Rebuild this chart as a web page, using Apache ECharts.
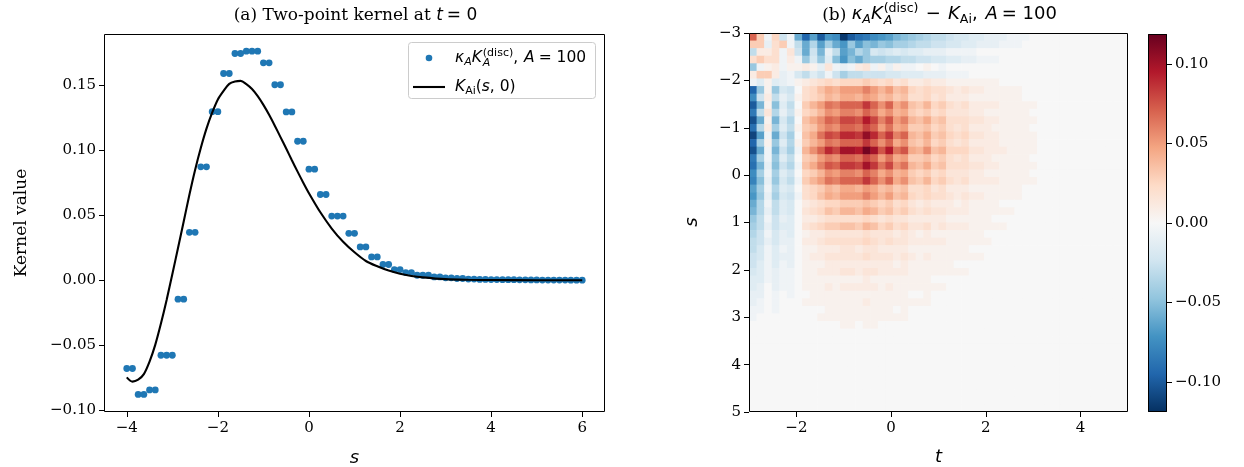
<!DOCTYPE html>
<html>
<head>
<meta charset="utf-8">
<script src="https://cdn.jsdelivr.net/npm/echarts/dist/echarts.min.js"></script>
<style>html,body{margin:0;padding:0;background:#fff}#main{width:1244px;height:467px}</style>
</head>
<body>
<div id="main"></div>
<script>
// ---------- data: panel (a) ----------
const S_POINTS = [-4,-3.875,-3.75,-3.625,-3.5,-3.375,-3.25,-3.125,-3,-2.875,-2.75,-2.625,-2.5,-2.375,-2.25,-2.125,-2,-1.875,-1.75,-1.625,-1.5,-1.375,-1.25,-1.125,-1,-0.875,-0.75,-0.625,-0.5,-0.375,-0.25,-0.125,0,0.125,0.25,0.375,0.5,0.625,0.75,0.875,1,1.125,1.25,1.375,1.5,1.625,1.75,1.875,2,2.125,2.25,2.375,2.5,2.625,2.75,2.875,3,3.125,3.25,3.375,3.5,3.625,3.75,3.875,4,4.125,4.25,4.375,4.5,4.625,4.75,4.875,5,5.125,5.25,5.375,5.5,5.625,5.75,5.875,6];
const K_DISC = [-0.068,-0.068,-0.088,-0.088,-0.0845,-0.0845,-0.0578,-0.0578,-0.0578,-0.0146,-0.0146,0.0369,0.0369,0.0873,0.0873,0.1298,0.1298,0.1592,0.1592,0.1746,0.1746,0.1764,0.1764,0.1764,0.1674,0.1674,0.1505,0.1505,0.1296,0.1296,0.107,0.107,0.0855,0.0855,0.066,0.066,0.0494,0.0494,0.0494,0.0361,0.0361,0.0256,0.0256,0.0179,0.0179,0.0121,0.0121,0.0082,0.0082,0.0059,0.0059,0.0038,0.0038,0.0038,0.0025,0.0025,0.0018,0.0018,0.0013,0.0013,0.0009,0.0009,0.0006,0.0006,0.0005,0.0005,0.0004,0.0004,0.0004,0.0003,0.0003,0.0002,0.0002,0.0001,0.0001,0.0001,0.0001,0.0001,0,0,0];
const S_CURVE = [-4,-3.875,-3.75,-3.625,-3.5,-3.375,-3.25,-3.125,-3,-2.875,-2.75,-2.625,-2.5,-2.375,-2.25,-2.125,-2,-1.875,-1.75,-1.625,-1.5,-1.375,-1.25,-1.125,-1,-0.875,-0.75,-0.625,-0.5,-0.375,-0.25,-0.125,0,0.25,0.5,0.75,1,1.25,1.5,1.75,2,2.25,2.5,3,3.5,4,5,6];
const K_AI = [-0.0748,-0.0781,-0.0766,-0.0723,-0.0627,-0.0498,-0.0334,-0.0152,0.0046,0.0248,0.0452,0.0658,0.0849,0.1018,0.1167,0.129,0.1392,0.1458,0.1512,0.153,0.1535,0.151,0.1472,0.1417,0.135,0.1274,0.119,0.1102,0.1014,0.0924,0.0836,0.0751,0.067,0.0523,0.0398,0.0296,0.0215,0.0148,0.0107,0.0074,0.0049,0.0033,0.0022,0.0008,0.0003,0.0001,0.00001,0];
const S_TICKS = [-4,-2,0,2,4,6];
const KERNEL_TICKS = [-0.1,-0.05,0,0.05,0.1,0.15];

// ---------- data: panel (b) ----------
const T_TICKS = [-2,0,2,4];
const S2_TICKS = [-3,-2,-1,0,1,2,3,4,5];
const CBAR_TICKS = [-0.1,-0.05,0,0.05,0.1];
const GRID_MIN = -3, GRID_MAX = 5, GRID_N = 50;
const VMIN = -0.119, VMAX = 0.119;
// each char = one cell (row = s from -3 downwards, column = t from -3 rightwards)
// '.' = 0, 'A'..'X' = +1..+24 steps, 'a'..'x' = -1..-24 steps; missing chars = 0
const DIFF_STEP = 0.005;
const DIFF_ROWS = [
"NFaEeal smtnowtrqonmkjihgffeddccbbbaaa",
"FFbDFaf lgmhlnimjkijhhgffeeddccbbbaaa",
"fBBDaCe lekbfmkgidedcdccbbbaaaa",
"DFDDaBa idicjnjlihhggffeeddccbbaaa",
"iaABaAA BAbCabaBCaAbAaa.A.a",
"BFFBbad fceaehffeeeddcccbbbaaa",
"acAcbaA BCDEDEEEFEDECDBBCBBAAAAAAA",
"siAide. DEGIHJJJLJHJGHEDEDDCBCBBAAAAA",
"oeBfbdA DEFHGIIHJIGHFGDDECDBBBAAAAAAA",
"tkAjcf. FHJMLNNNQNKNIKGFHEFDCDBBBBAAAAA",
"qfCgbeA EFHKJLLKNLIKHIFEFDECCCBBAAAAAA",
"ulAkdg. GIKNMPPOSPLOJLHGIFGDDDCCBBAAAAA",
"rgBhcfA FGJLKNNMPNJMIJFFGEFDCDBBBAAAAA",
"vmaleh. GIMPORRQURNQLNHGIFGEDECCBBAAAAA",
"shAicgA FHJMLNNNQNKNIKGFHEFDCDBBBBAAAAA",
"ulakeha HKNRPTTSWTOSMOIHKGHEEECCBBBAAAA",
"qhaicf. FGJLKNNMPNJMIJFFGEFDCDBBBAAAAA",
"rkbjega GILONQQPTQMPKMHGIFGDDDCCBBAAAAA",
"ohahce. EFHKJLLKNLIKHIFEFDECCCBBAAAAAA",
"pjbidfa FHJMLNNNQNKNIKGFHEFDCDBBBBAAAAA",
"mhagcd. DEFHGIIHJIGHFGDDECDBBBAAAAAAA",
"nibhdea DEGIHJJJLJHJGHEDEDDCBCBBAAAAA",
"lgafcd. BCDEEFFFGFEFDECBCBBBABAAAA",
"kgbfcd. CDEGFHHGIHFGEFDCDCCBBBAAAAAA",
"ifaebc. BBCDDDDDEDCDCCBBBBBAAAAAA",
"hfbecc. CDEFFGGFHGEFDECCDBCBBBAAAAA",
"geadbc. ABBCCCCCDCCCBCBABAAAAAAA",
"febdbb. BBCDDDDDEDCDCCBBBBBAAAAAA",
"fdacab. AABBBCCBCCBBBBAAAAAAAA",
"edacbb. ABBCCCCCDCCCBCBABAAAAAAA",
"ecacab. AAABBBBBBBBBABAAAAAA",
"dcabaa. AABBBCCBCCBBBBAAAAAAAA",
"ccabaa. AAAAAAAABAAAAAAAA",
"cb.baa. AAABABBBBBABAAAAAAA",
"bb.a.a. .AAAAAAAAAAAAA..A",
"ba.a... AAAAAAAABAAAAAAAA",
"aa.a... ...AAAAAAAAA.A",
"a...... ..AAAAAAAAAAAA",
"....... .....AA.AA",
"","","","","","","","","","",""
];
const RDBU_R = ['#053061','#2166ac','#4393c3','#92c5de','#d1e5f0','#f7f7f7','#fddbc7','#f4a582','#d6604d','#b2182b','#67001f'];

// ---------- build ----------
function lvl(c){
  if (!c || c === '.') return 0;
  const u = c.charCodeAt(0);
  if (u >= 65 && u <= 90) return u - 64;
  if (u >= 97 && u <= 122) return -(u - 96);
  return 0;
}
const CELL = (GRID_MAX - GRID_MIN) / GRID_N;
const heatData = [];
DIFF_ROWS.forEach((raw, i) => {
  const row = raw.replace(/ /g, '');
  for (let j = 0; j < GRID_N; j++) {
    heatData.push([GRID_MIN + (j + 0.5) * CELL, GRID_MIN + (i + 0.5) * CELL, lvl(row[j]) * DIFF_STEP]);
  }
});
const fmt = d => v => (v < -1e-12 ? '\u2212' : '') + Math.abs(v).toFixed(d);

const mctx = document.createElement('canvas').getContext('2d');
const FAM = {serif: '"DejaVu Serif"', sans: '"DejaVu Sans"'};
function pfont(p){ return (p.it ? 'italic ' : 'normal ') + p.size + 'px ' + FAM[p.fam || 'sans']; }
function mathText(pieces, x0, baseline, align, z) {
  let x = 0, lastStart = 0, lastW = 0;
  const placed = [];
  for (const p of pieces) {
    mctx.font = pfont(p);
    const w = mctx.measureText(p.t).width + (p.gap || 0);
    if (p.stack) {
      placed.push({p, x: lastStart});
      x = lastStart + Math.max(lastW, w);
    } else {
      placed.push({p, x});
      lastStart = x; lastW = w; x += w;
    }
  }
  const start = align === 'center' ? x0 - x / 2 : x0;
  return placed.map(o => ({
    type: 'text', z: z || 110,
    x: start + o.x + (o.p.pre || 0), y: baseline + (o.p.dy || 0) - 0.346 * o.p.size,
    style: {text: o.p.t, font: pfont(o.p), fill: '#000', align: 'left', verticalAlign: 'middle'}
  }));
}

const TS = 17, MS = 18, SS = 12.6, LS = 15.5, LSS = 11;
const graphics = [];
// frames
[[104,34,501,378],[749,33,379,379],[1148,34,19,378]].forEach(r => graphics.push({
  type: 'rect', z: 100, shape: {x: r[0] + 0.5, y: r[1] + 0.5, width: r[2] - 1, height: r[3] - 1},
  style: {fill: 'none', stroke: '#000', lineWidth: 1}
}));
// titles
graphics.push(...mathText([
  {t: '(a) Two-point kernel at ', fam: 'serif', size: TS},
  {t: 't', it: true, size: TS, gap: 2}, {t: '= 0', size: TS, pre: 2}], 354.5, 21, 'center'));
graphics.push(...mathText([
  {t: '(b) ', fam: 'serif', size: TS},
  {t: '\u03ba', it: true, size: MS}, {t: 'A', it: true, size: SS, dy: 3.5},
  {t: 'K', it: true, size: MS, gap: 1}, {t: '(disc)', size: SS, dy: -8}, {t: 'A', it: true, size: SS, dy: 4, stack: true},
  {t: ' \u2212 ', size: MS, gap: 3, pre: 1.5}, {t: 'K', it: true, size: MS}, {t: 'Ai', size: SS, dy: 3.5},
  {t: ', ', size: MS, gap: 2}, {t: 'A', it: true, size: MS, gap: 2}, {t: '= 100', size: MS, pre: 2}], 938.5, 21, 'center'));
// axis labels
graphics.push({type: 'text', z: 110, x: 22, y: 223, rotation: Math.PI / 2,
  style: {text: 'Kernel value', font: '17px "DejaVu Serif"', fill: '#000', align: 'center', verticalAlign: 'middle'}});
graphics.push({type: 'text', z: 110, x: 354.5, y: 458,
  style: {text: 's', font: 'italic 18px "DejaVu Sans"', fill: '#000', align: 'center', verticalAlign: 'middle'}});
graphics.push({type: 'text', z: 110, x: 938.5, y: 457,
  style: {text: 't', font: 'italic 18px "DejaVu Sans"', fill: '#000', align: 'center', verticalAlign: 'middle'}});
graphics.push({type: 'text', z: 110, x: 692, y: 222, rotation: Math.PI / 2,
  style: {text: 's', font: 'italic 18px "DejaVu Sans"', fill: '#000', align: 'center', verticalAlign: 'middle'}});
// legend
graphics.push({type: 'rect', z: 105, shape: {x: 408.5, y: 42.5, width: 187, height: 56, r: 3},
  style: {fill: 'rgba(255,255,255,0.8)', stroke: '#cccccc', lineWidth: 1}});
graphics.push({type: 'circle', z: 110, shape: {cx: 429, cy: 58, r: 3.3}, style: {fill: '#1f77b4'}});
graphics.push({type: 'line', z: 110, shape: {x1: 413, y1: 87, x2: 445, y2: 87}, style: {stroke: '#000', lineWidth: 2.1}});
graphics.push(...mathText([
  {t: '\u03ba', it: true, size: LS}, {t: 'A', it: true, size: LSS, dy: 3},
  {t: 'K', it: true, size: LS, gap: 1}, {t: '(disc)', size: LSS, dy: -6.5}, {t: 'A', it: true, size: LSS, dy: 3.5, stack: true},
  {t: ', ', size: LS, gap: 1}, {t: 'A', it: true, size: LS, gap: 2}, {t: '= 100', size: LS, pre: 2}], 455, 63, 'left'));
graphics.push(...mathText([
  {t: 'K', it: true, size: LS}, {t: 'Ai', size: LSS, dy: 3},
  {t: '(', size: LS}, {t: 's', it: true, size: LS}, {t: ', 0)', size: LS}], 455, 92, 'left'));

const tickStyle = {show: true, length: 5, lineStyle: {color: '#000', width: 1}};
const labelBase = {color: '#000', fontFamily: 'DejaVu Serif', fontSize: 15};
const noLine = {show: false, onZero: false};
const chart = echarts.init(document.getElementById('main'), null, {renderer: 'canvas'});
chart.setOption({
  animation: false,
  backgroundColor: '#fff',
  grid: [
    {left: 104, top: 34, width: 501, height: 378},
    {left: 749, top: 33, width: 379, height: 379},
    {left: 1148, top: 34, width: 19, height: 378}
  ],
  xAxis: [
    {gridIndex: 0, type: 'value', min: -4.5, max: 6.5, position: 'bottom', splitLine: {show: false}, axisLine: noLine,
     axisTick: Object.assign({customValues: S_TICKS}, tickStyle),
     axisLabel: Object.assign({customValues: S_TICKS, formatter: fmt(0), margin: 9}, labelBase)},
    {gridIndex: 1, type: 'value', min: GRID_MIN, max: GRID_MAX, position: 'bottom', splitLine: {show: false}, axisLine: noLine,
     axisTick: Object.assign({customValues: T_TICKS}, tickStyle),
     axisLabel: Object.assign({customValues: T_TICKS, formatter: fmt(0), margin: 9}, labelBase)},
    {gridIndex: 2, type: 'value', min: 0, max: 1, show: false}
  ],
  yAxis: [
    {gridIndex: 0, type: 'value', min: -0.1015, max: 0.1896, position: 'left', splitLine: {show: false}, axisLine: noLine,
     axisTick: Object.assign({customValues: KERNEL_TICKS}, tickStyle),
     axisLabel: Object.assign({customValues: KERNEL_TICKS, formatter: fmt(2), margin: 8}, labelBase)},
    {gridIndex: 1, type: 'value', min: GRID_MIN, max: GRID_MAX, inverse: true, position: 'left', splitLine: {show: false}, axisLine: noLine,
     axisTick: Object.assign({customValues: S2_TICKS}, tickStyle),
     axisLabel: Object.assign({customValues: S2_TICKS, formatter: fmt(0), margin: 8}, labelBase)},
    {gridIndex: 2, type: 'value', min: VMIN, max: VMAX, position: 'right', splitLine: {show: false}, axisLine: noLine,
     axisTick: Object.assign({customValues: CBAR_TICKS}, tickStyle),
     axisLabel: Object.assign({customValues: CBAR_TICKS, formatter: fmt(2), margin: 8}, labelBase)}
  ],
  visualMap: {type: 'continuous', show: false, min: VMIN, max: VMAX, dimension: 2, seriesIndex: 2,
    inRange: {color: RDBU_R}},
  series: [
    {type: 'scatter', xAxisIndex: 0, yAxisIndex: 0, data: S_POINTS.map((s, k) => [s, K_DISC[k]]),
     symbol: 'circle', symbolSize: 6.8, itemStyle: {color: '#1f77b4', opacity: 1}, z: 2},
    {type: 'line', xAxisIndex: 0, yAxisIndex: 0, data: S_CURVE.map((s, k) => [s, K_AI[k]]),
     showSymbol: false, smooth: 0.3, lineStyle: {color: '#000', width: 2.1}, z: 3},
    {type: 'custom', xAxisIndex: 1, yAxisIndex: 1, data: heatData, encode: {x: 0, y: 1}, clip: true,
     renderItem: (params, api) => {
       const t = api.value(0), s = api.value(1);
       const a = api.coord([t - CELL / 2, s - CELL / 2]);
       const b = api.coord([t + CELL / 2, s + CELL / 2]);
       return {type: 'rect', shape: {x: Math.min(a[0], b[0]), y: Math.min(a[1], b[1]),
         width: Math.abs(b[0] - a[0]) + 0.6, height: Math.abs(b[1] - a[1]) + 0.6},
         style: {fill: api.visual('color')}};
     }},
    {type: 'custom', xAxisIndex: 2, yAxisIndex: 2, data: [[0, VMIN, VMAX]], encode: {x: 0, y: [1, 2]},
     renderItem: (params, api) => {
       const a = api.coord([0, api.value(1)]);
       const b = api.coord([1, api.value(2)]);
       return {type: 'rect', shape: {x: a[0], y: b[1], width: b[0] - a[0], height: a[1] - b[1]},
         style: {fill: new echarts.graphic.LinearGradient(0, 1, 0, 0,
           RDBU_R.map((c, k) => ({offset: k / (RDBU_R.length - 1), color: c})))}};
     }}
  ],
  graphic: graphics
});
</script>
</body>
</html>
